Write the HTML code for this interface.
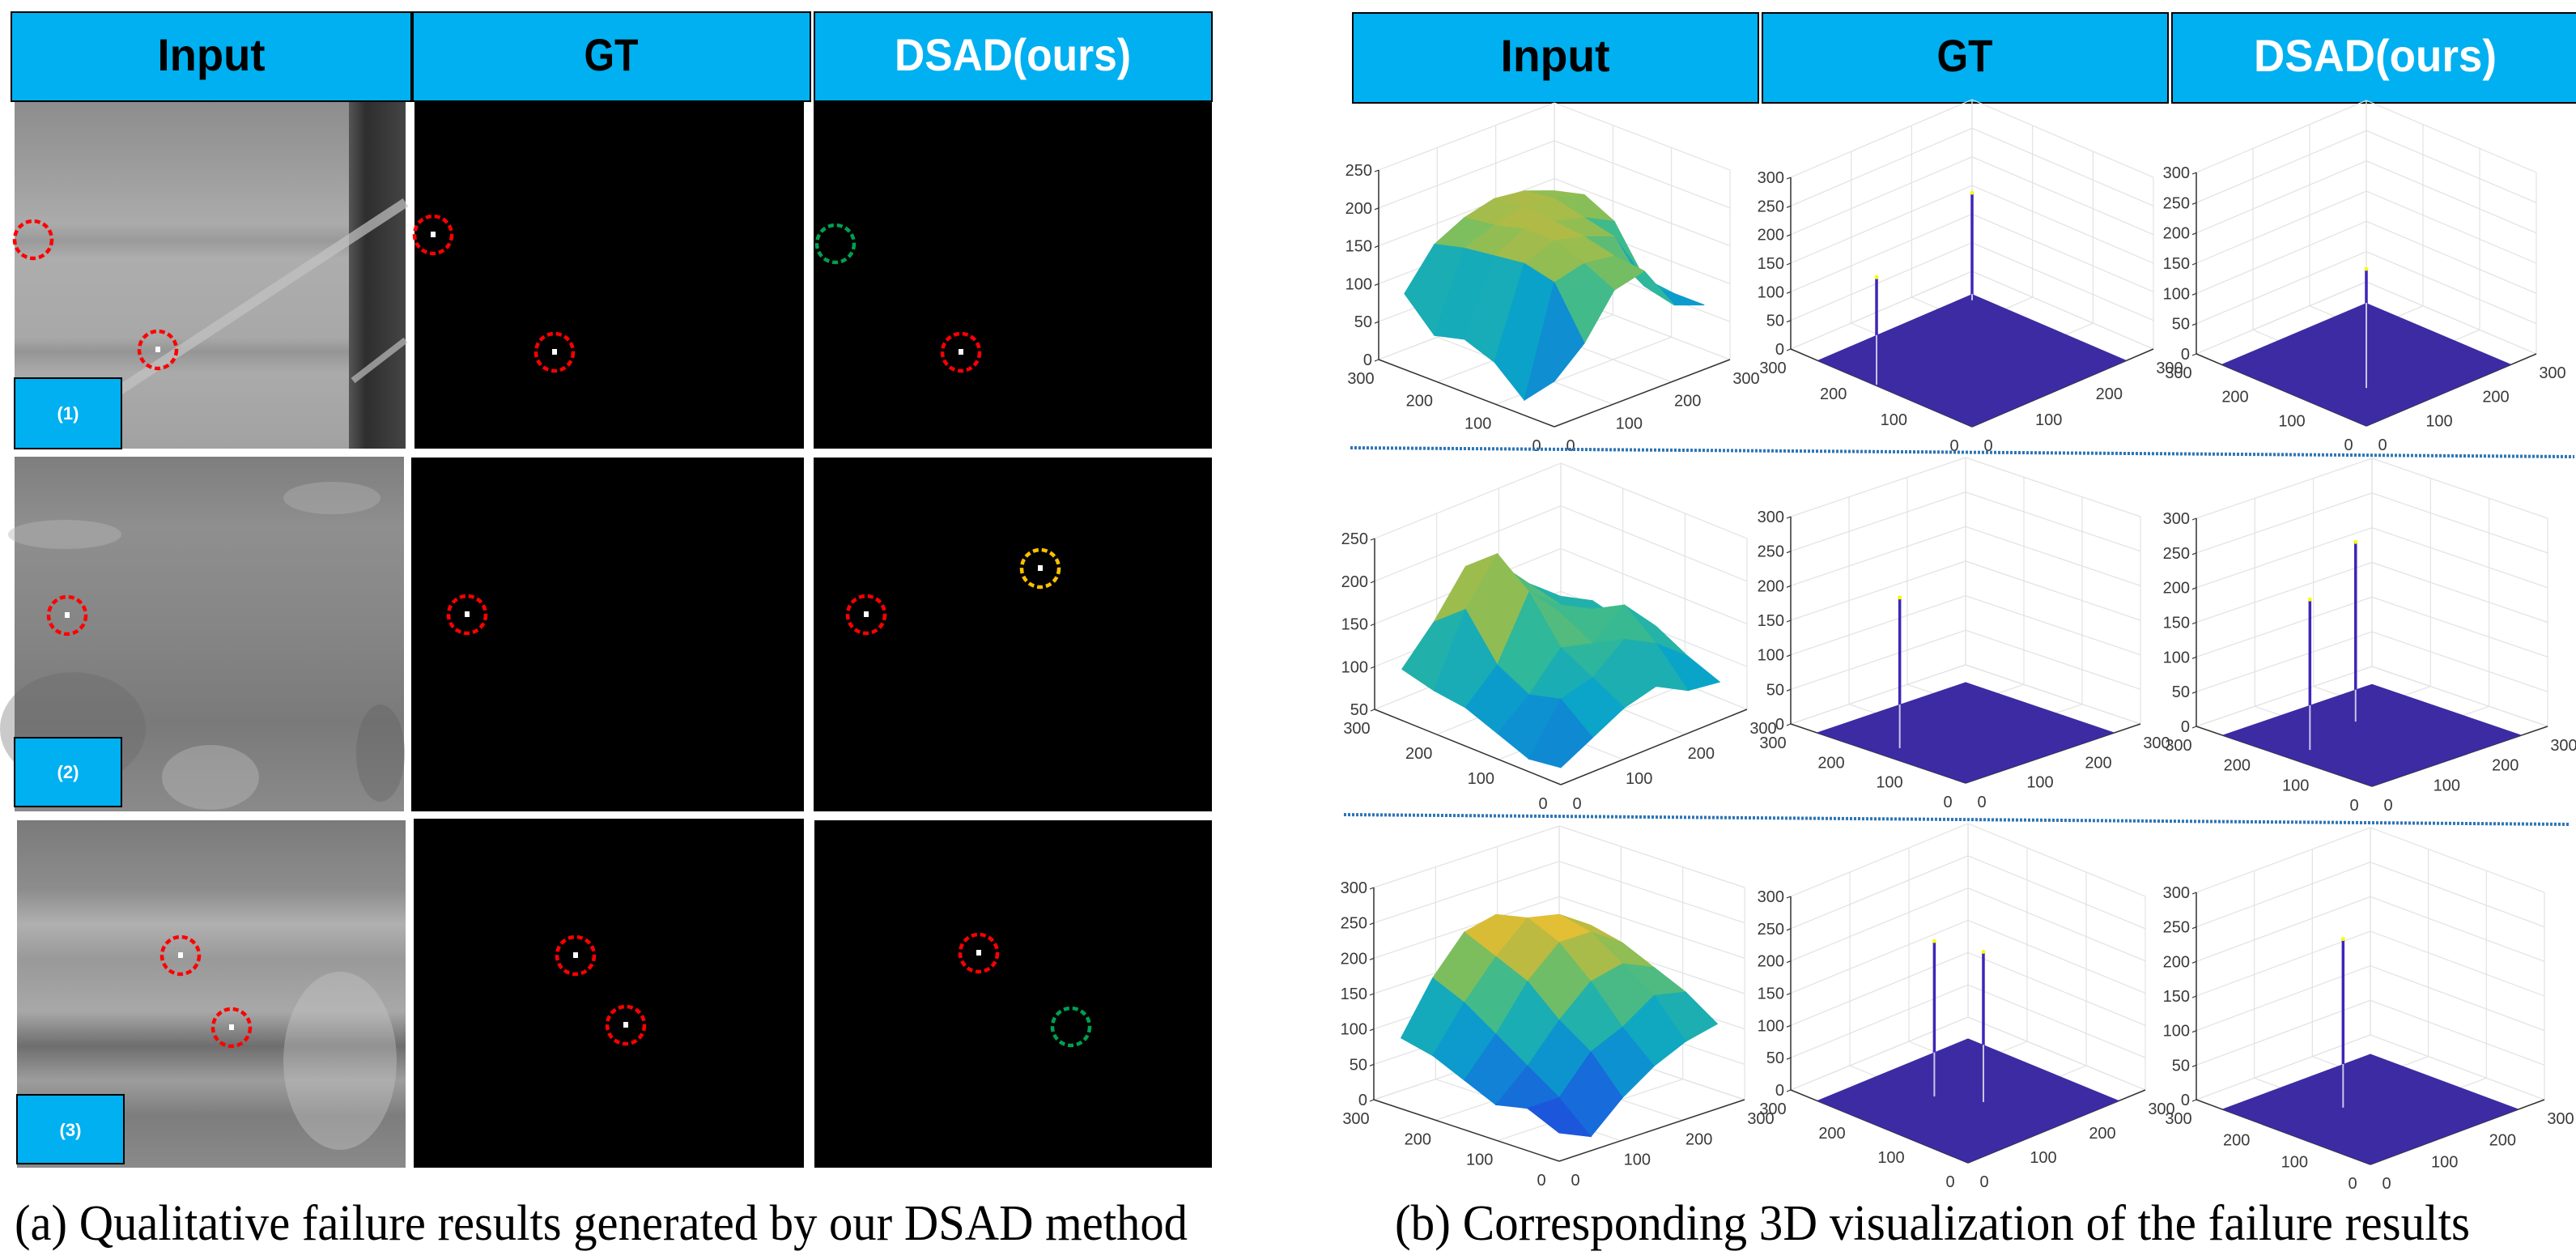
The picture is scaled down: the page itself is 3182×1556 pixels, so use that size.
<!DOCTYPE html>
<html><head><meta charset="utf-8">
<style>
html,body{margin:0;padding:0;background:#fff;}
svg{display:block;}
.hd{font-family:"Liberation Sans",sans-serif;font-weight:bold;font-size:56px;text-anchor:middle;}
.cap{font-family:"Liberation Serif",serif;font-size:62px;}
.tk{font-family:"Liberation Sans Narrow","Liberation Sans",sans-serif;font-size:20px;fill:#3a3a3a;}
.lb{font-family:"Liberation Sans",sans-serif;font-weight:bold;font-size:22px;fill:#fff;text-anchor:middle;}
</style></head>
<body>
<svg id="fig" width="3182" height="1556" viewBox="0 0 3182 1556" xmlns="http://www.w3.org/2000/svg">
<defs>
<linearGradient id="g1" x1="0" y1="0" x2="0" y2="1">
<stop offset="0" stop-color="#8d8d8d"/><stop offset="0.15" stop-color="#999"/><stop offset="0.35" stop-color="#ababab"/><stop offset="0.4" stop-color="#9a9a9a"/><stop offset="0.45" stop-color="#adadad"/><stop offset="0.68" stop-color="#a8a8a8"/><stop offset="0.72" stop-color="#959595"/><stop offset="0.78" stop-color="#aaa"/><stop offset="1" stop-color="#a2a2a2"/></linearGradient>
<linearGradient id="g1d" x1="0" y1="0" x2="1" y2="0"><stop offset="0" stop-color="#555"/><stop offset="0.3" stop-color="#2e2e2e"/><stop offset="1" stop-color="#444"/></linearGradient>
<linearGradient id="g2" x1="0" y1="0" x2="0" y2="1">
<stop offset="0" stop-color="#7e7e7e"/><stop offset="0.2" stop-color="#8f8f8f"/><stop offset="0.5" stop-color="#858585"/><stop offset="0.75" stop-color="#7a7a7a"/><stop offset="1" stop-color="#8a8a8a"/></linearGradient>
<linearGradient id="g3" x1="0" y1="0" x2="0" y2="1">
<stop offset="0" stop-color="#7a7a7a"/><stop offset="0.2" stop-color="#8d8d8d"/><stop offset="0.3" stop-color="#b0b0b0"/><stop offset="0.4" stop-color="#999"/><stop offset="0.55" stop-color="#a8a8a8"/><stop offset="0.65" stop-color="#6e6e6e"/><stop offset="0.75" stop-color="#9d9d9d"/><stop offset="0.85" stop-color="#7d7d7d"/><stop offset="1" stop-color="#8a8a8a"/></linearGradient>
</defs>

<g>
<rect x="14" y="15" width="494" height="110" fill="#00b0f0" stroke="#000" stroke-width="2"/>
<text class="hd" x="261" y="87" textLength="133" lengthAdjust="spacingAndGlyphs" fill="#000">Input</text>
<rect x="510" y="15" width="491" height="110" fill="#00b0f0" stroke="#000" stroke-width="2"/>
<text class="hd" x="755" y="87" textLength="67" lengthAdjust="spacingAndGlyphs" fill="#000">GT</text>
<rect x="1006" y="15" width="491" height="110" fill="#00b0f0" stroke="#000" stroke-width="2"/>
<text class="hd" x="1251" y="87" textLength="292" lengthAdjust="spacingAndGlyphs" fill="#fff">DSAD(ours)</text>
</g>
<g>
<rect x="1671" y="16" width="501" height="111" fill="#00b0f0" stroke="#000" stroke-width="2"/>
<text class="hd" x="1921" y="88" textLength="135" lengthAdjust="spacingAndGlyphs" fill="#000">Input</text>
<rect x="2177" y="16" width="501" height="111" fill="#00b0f0" stroke="#000" stroke-width="2"/>
<text class="hd" x="2427" y="88" textLength="69" lengthAdjust="spacingAndGlyphs" fill="#000">GT</text>
<rect x="2683" y="16" width="500" height="111" fill="#00b0f0" stroke="#000" stroke-width="2"/>
<text class="hd" x="2934" y="88" textLength="300" lengthAdjust="spacingAndGlyphs" fill="#fff">DSAD(ours)</text>
</g>

<g>
<rect x="18" y="126" width="483" height="428" fill="url(#g1)"/>
<rect x="431" y="126" width="70" height="428" fill="url(#g1d)"/>
<line x1="501" y1="250" x2="120" y2="500" stroke="#c4c4c4" stroke-width="12" opacity="0.7"/>
<line x1="501" y1="420" x2="436" y2="470" stroke="#bdbdbd" stroke-width="8" opacity="0.7"/>
</g>
<g>
<rect x="18" y="564" width="481" height="438" fill="url(#g2)"/>
<ellipse cx="80" cy="660" rx="70" ry="18" fill="#b5b5b5" opacity="0.45"/>
<ellipse cx="410" cy="615" rx="60" ry="20" fill="#b0b0b0" opacity="0.45"/>
<ellipse cx="90" cy="900" rx="90" ry="70" fill="#666" opacity="0.35"/>
<ellipse cx="260" cy="960" rx="60" ry="40" fill="#b8b8b8" opacity="0.45"/>
<ellipse cx="470" cy="930" rx="30" ry="60" fill="#5f5f5f" opacity="0.35"/>
</g>
<g>
<rect x="21" y="1013" width="480" height="429" fill="url(#g3)"/>
<ellipse cx="420" cy="1310" rx="70" ry="110" fill="#c8c8c8" opacity="0.4"/>
</g>
<g>
<rect x="18" y="467" width="132" height="87" fill="#00b0f0" stroke="#000" stroke-width="2"/>
<text class="lb" x="84" y="518">(1)</text>
<rect x="18" y="911" width="132" height="85" fill="#00b0f0" stroke="#000" stroke-width="2"/>
<text class="lb" x="84" y="961">(2)</text>
<rect x="21" y="1352" width="132" height="85" fill="#00b0f0" stroke="#000" stroke-width="2"/>
<text class="lb" x="87" y="1403">(3)</text>
</g>
<g>
<rect x="512" y="126" width="481" height="428" fill="#000"/>
<rect x="1005" y="126" width="492" height="428" fill="#000"/>
<rect x="508" y="565" width="485" height="437" fill="#000"/>
<rect x="1005" y="565" width="492" height="437" fill="#000"/>
<rect x="511" y="1011" width="482" height="431" fill="#000"/>
<rect x="1006" y="1013" width="491" height="429" fill="#000"/>
</g>
<g id="marks"></g>

<g id="plots"></g>
<g>
<line x1="1668" y1="553" x2="3180" y2="564" stroke="#2e75b6" stroke-width="4" stroke-dasharray="3 2"/>
<line x1="1660" y1="1006" x2="3175" y2="1018" stroke="#2e75b6" stroke-width="4" stroke-dasharray="3 2"/>
</g>

<text class="cap" x="18" y="1531" textLength="1449" lengthAdjust="spacingAndGlyphs">(a) Qualitative failure results generated by our DSAD method</text>
<text class="cap" x="1723" y="1531" textLength="1328" lengthAdjust="spacingAndGlyphs">(b) Corresponding 3D visualization of the failure results</text>
</svg>
<script>
const markX = [41,195,535,685,1032,1187, 83,577,1070,1285, 223,286,711,773,1209,1323];
const markY = [296,432,290,435,301,435, 760,759,759,702, 1180,1269,1180,1266,1177,1268];
const markC = ['r','r','r','r','g','r', 'r','r','r','y', 'r','r','r','r','r','g'];
const markDot = [0,1,1,1,0,1, 1,1,1,1, 1,1,1,1,1,0];

const surf1 = [
 [60,95,150,160,100,85],
 [20,160,170,165,110,85],
 [55,170,185,175,160,90],
 [70,165,185,180,170,150],
 [60,160,175,185,180,170],
 [100,150,170,180,175,160]];
const surf2 = [
 [70,90,110,120,100,95],
 [65,120,130,160,140,110],
 [80,110,150,140,170,130],
 [95,130,200,160,150,120],
 [100,180,230,170,140,130],
 [110,150,200,190,150,120]];
const surf3 = [
 [40,20,60,90,110,120],
 [60,60,110,130,160,150],
 [50,90,140,180,190,170],
 [70,120,180,220,220,190],
 [90,150,200,240,230,200],
 [100,170,220,230,210,180]];
const spikesGT1 = [[160,2,188],[244,244,188]];
const spikesDS1 = [[79,79,197]];
const spikesGT2 = [[145,32,218]];
const spikesDS2 = [[144,38,217],[176,148,259]];
const spikesGT3 = [[165,108,241],[112,138,233]];
const spikesDS3 = [[155,108,244]];
const ticks3 = [0,50,100,150,200,250,300];
const ticksIn1 = [0,50,100,150,200,250];
const ticksIn2 = [50,100,150,200,250];
const groundTicks = [0,100,200,300];

const NS='http://www.w3.org/2000/svg';
function mk(tag, attrs, parent){const e=document.createElementNS(NS,tag);for(const k in attrs)e.setAttribute(k,attrs[k]);parent.appendChild(e);return e;}

const marks=document.getElementById('marks');
const colMap={r:'#ff0000',g:'#00a050',y:'#ffc000'};
for(let i=0;i<markX.length;i++){
  const el=mk('ellipse',{cx:markX[i],cy:markY[i],rx:23,ry:23,fill:'none',stroke:colMap[markC[i]],'stroke-width':4.5,'stroke-dasharray':'7 4'},marks);
  
  
  if(markDot[i]){
    const d=mk('rect',{x:markX[i]-3,y:markY[i]-4,width:6,height:7,fill:'#fff'},marks);
    
    
  }
}

function parula(t){
  t=Math.max(0,Math.min(1,t));
  const s=[[0,[53,42,135]],[0.15,[30,80,220]],[0.3,[18,125,216]],[0.45,[10,165,200]],[0.6,[50,185,150]],[0.72,[130,190,90]],[0.84,[210,185,55]],[0.93,[250,200,50]],[1,[249,251,14]]];
  for(let i=1;i<s.length;i++){if(t<=s[i][0]){const a=s[i-1],b=s[i],f=(t-a[0])/(b[0]-a[0]);return 'rgb('+a[1].map((c,k)=>Math.round(c+(b[1][k]-c)*f)).join(',')+')';}}
  return 'rgb(249,251,14)';
}

const plotCfg = [
 {name:'row1-input',cx:1920,yb:527,w:217,h:83,H:234,zmin:0,zmax:250,zt:ticksIn1,surf:surf1,cmax:230},
 {name:'row1-gt',cx:2436,yb:527,w:224,h:96,H:212,zmin:0,zmax:300,zt:ticks3,spikes:spikesGT1},
 {name:'row1-dsad',cx:2923,yb:526,w:210,h:89,H:224,zmin:0,zmax:300,zt:ticks3,spikes:spikesDS1},
 {name:'row2-input',cx:1928,yb:969,w:230,h:93,H:211,zmin:50,zmax:250,zt:ticksIn2,surf:surf2,cmax:250},
 {name:'row2-gt',cx:2428,yb:967,w:216,h:73,H:256,zmin:0,zmax:300,zt:ticks3,spikes:spikesGT2},
 {name:'row2-dsad',cx:2930,yb:971,w:217,h:74,H:257,zmin:0,zmax:300,zt:ticks3,spikes:spikesDS2},
 {name:'row3-input',cx:1926,yb:1434,w:229,h:76,H:262,zmin:0,zmax:300,zt:ticks3,surf:surf3,cmax:260},
 {name:'row3-gt',cx:2431,yb:1436,w:219,h:90,H:239,zmin:0,zmax:300,zt:ticks3,spikes:spikesGT3},
 {name:'row3-dsad',cx:2928,yb:1438,w:215,h:80,H:256,zmin:0,zmax:300,zt:ticks3,spikes:spikesDS3}
];

const plots=document.getElementById('plots');
plotCfg.forEach(c=>{
  const g=mk('g',{},plots);
  
  
  const P=(u,v,z)=>[c.cx+c.w*(v-u)/300, c.yb-c.h*(u+v)/300-c.H*(z-c.zmin)/(c.zmax-c.zmin)];
  const ln=(a,b,st,sw)=>mk('line',{x1:a[0],y1:a[1],x2:b[0],y2:b[1],stroke:st,'stroke-width':sw},g);
  const grid='#e2e2e2';
  groundTicks.forEach(t=>{
    ln(P(300,t,c.zmin),P(300,t,c.zmax),grid,1.2);
    ln(P(t,300,c.zmin),P(t,300,c.zmax),grid,1.2);
    ln(P(t,0,c.zmin),P(t,300,c.zmin),grid,1.2);
    ln(P(0,t,c.zmin),P(300,t,c.zmin),grid,1.2);
  });
  c.zt.forEach(z=>{
    ln(P(300,0,z),P(300,300,z),grid,1.2);
    ln(P(300,300,z),P(0,300,z),grid,1.2);
  });
  ln(P(0,0,c.zmin),P(300,0,c.zmin),'#333',1.5);
  ln(P(0,0,c.zmin),P(0,300,c.zmin),'#333',1.5);
  ln(P(300,0,c.zmin),P(300,0,c.zmax),'#333',1.5);
  groundTicks.forEach(t=>{
    const a=P(t,0,c.zmin);
    const ta=mk('text',{x:a[0]-22,y:a[1]+30,'text-anchor':'middle',class:'tk'},g);ta.textContent=t;
    
    
    const b=P(0,t,c.zmin);
    const tb=mk('text',{x:b[0]+20,y:b[1]+30,'text-anchor':'middle',class:'tk'},g);tb.textContent=t;
    
    
  });
  c.zt.forEach(z=>{
    const a=P(300,0,z);
    ln([a[0],a[1]],[a[0]-5,a[1]+2],'#333',1.2);
    const tz=mk('text',{x:a[0]-8,y:a[1]+7,'text-anchor':'end',class:'tk'},g);tz.textContent=z;
    
    
  });
  if(c.surf){
    const n=c.surf.length, st=256/(n-1);
    const cells=[];
    for(let i=0;i<n-1;i++)for(let j=0;j<n-1;j++)cells.push([i,j]);
    cells.sort((a,b)=>(b[0]+b[1])-(a[0]+a[1]));
    cells.forEach(([i,j])=>{
      const zs=[c.surf[i][j],c.surf[i+1][j],c.surf[i+1][j+1],c.surf[i][j+1]];
      const pts=[P(i*st,j*st,zs[0]),P((i+1)*st,j*st,zs[1]),P((i+1)*st,(j+1)*st,zs[2]),P(i*st,(j+1)*st,zs[3])];
      const avg=(zs[0]+zs[1]+zs[2]+zs[3])/4;
      const col=parula(avg/c.cmax);
      const q=mk('polygon',{points:pts.map(p=>p.join(',')).join(' '),fill:col,stroke:col,'stroke-width':1},g);
      
      
    });
  }
  if(c.spikes){
    const gp=[P(0,0,0),P(256,0,0),P(256,256,0),P(0,256,0)];
    const gr=mk('polygon',{points:gp.map(p=>p.join(',')).join(' '),fill:'#3c2ba3'},g);
    
    
    const backY=P(256,256,0)[1];
    c.spikes.forEach(s=>{
      const b=P(s[0],s[1],0), t=P(s[0],s[1],s[2]);
      const sp=ln(b,t,'#3e26b8',3.5);
      
      
      const edgeY=Math.max(t[1],backY+(c.h/c.w)*Math.abs(b[0]-c.cx));
      ln(b,[b[0],edgeY],'#c8c8dc',2);
      mk('circle',{cx:t[0],cy:t[1],r:2.5,fill:'#f9fb0e'},g);
    });
  }
});
</script>
</body></html>
